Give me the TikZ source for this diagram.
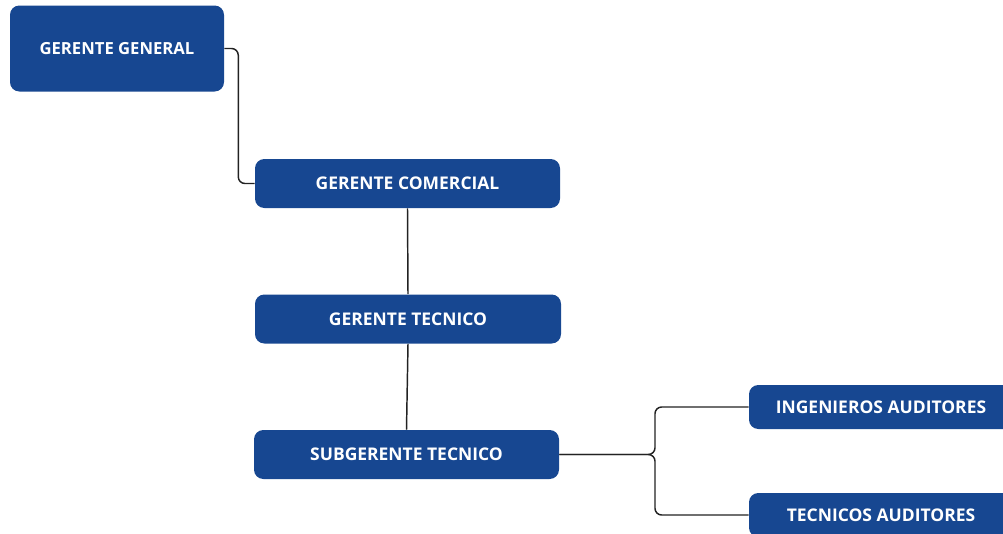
\documentclass[tikz,border=0pt]{standalone}
\usepackage{fontspec}
\setmainfont{Open Sans}
\usetikzlibrary{positioning}
\usetikzlibrary{calc}

\definecolor{cargo}{RGB}{23,71,145}
\definecolor{linea}{RGB}{34,34,34}

\tikzset{
    puesto/.style={fill=cargo, rounded corners=7, text=white,
        font=\fontsize{13.1}{15}\selectfont\bfseries, inner sep=0pt,
        minimum width=305, minimum height=49},
    enlace/.style={draw=linea, line width=1.1pt, rounded corners=5}
}

\begin{document}
\begin{tikzpicture} [
            x=0.75pt, y=-0.75pt
        ]
        \useasboundingbox (0,0) rectangle (1003,533);
        \clip (0,0) rectangle (1003,533);
        % organigrama
        \node[puesto, minimum width=160.5pt, minimum height=64.5pt,
            font=\fontsize{12.5}{15}\selectfont\bfseries] (gg) at (117,48.5) {GERENTE GENERAL};
        \node[puesto, minimum width=228.75pt, minimum height=36.75pt] (com) at (407.5,183.5) {GERENTE COMERCIAL};
        \node[puesto, minimum width=229.5pt, minimum height=36.75pt] (tec) at (408,319) {GERENTE TECNICO};
        \node[puesto, minimum width=228.75pt, minimum height=36.75pt] (sub) at (406.5,454.5) {SUBGERENTE TECNICO};
        \node[puesto, minimum width=198pt, minimum height=33pt] (ing) at (881,407) {INGENIEROS AUDITORES};
        \node[puesto, minimum width=198pt, minimum height=33pt] (tca) at (881,515) {TECNICOS AUDITORES};
        \coordinate (br) at (655,454.5);
        % conectores
        \draw[enlace] (gg.east) -- ++(14,0) |- (com.west);
        \draw[enlace] (com.south) -- (tec.north);
        \draw[enlace] (tec.south) -- (sub.north);
        \draw[enlace] (sub.east) -- (br) |- (ing.west);
        \draw[enlace] (sub.east) -- (br) |- (tca.west);
    \end{tikzpicture}
\end{document}
